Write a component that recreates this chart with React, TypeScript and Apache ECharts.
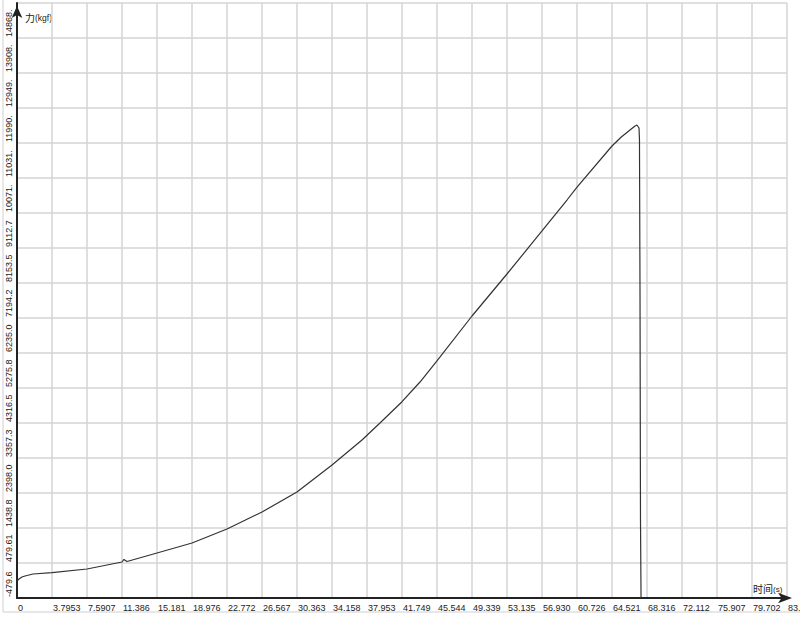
import React, { useEffect, useRef } from 'react';
import * as echarts from 'echarts';

// time (s)
const timeS = [
  0, 0.217, 0.542, 0.867, 1.735, 3.795, 7.591, 11.386, 11.60, 11.93, 14.42,
  18.98, 22.77, 26.57, 30.36, 34.16, 37.41, 39.36, 41.75, 43.70, 45.54, 49.34, 53.13,
  56.93, 59.64, 60.73, 64.52, 65.53, 66.47, 67.02, 67.23, 67.45, 67.50, 67.56, 67.61, 67.67,
];
// force (kgf)
const forceKgf = [
  -14, 41, 96, 123, 178, 214, 315, 507, 576, 521, 699,
  1028, 1411, 1877, 2426, 3166, 3851, 4317, 4900, 5440, 6016, 7249, 8400,
  9579, 10428, 10784, 11908, 12154, 12346, 12456, 12483, 12401, 12072, 7687, 1658, -480,
];

const xTickLabels = [
  '0', '3.7953', '7.5907', '11.386', '15.181', '18.976', '22.772', '26.567',
  '30.363', '34.158', '37.953', '41.749', '45.544', '49.339', '53.135', '56.930',
  '60.726', '64.521', '68.316', '72.112', '75.907', '79.702', '83.',
];
const yTickLabels = [
  '-479.6', '479.61', '1438.8', '2398.0', '3357.3', '4316.5', '5275.8', '6235.0',
  '7194.2', '8153.5', '9112.7', '10071.', '11031.', '11990.', '12949.', '13908.', '14868.', '',
];

const X_INTERVAL = 3.79533;
const X_TICKS = 22;
const Y_INTERVAL = 959.225;
const Y_BASE = -479.6;
const Y_TICKS = 17;
const breakLabel = '1';

export default function App() {
  const ref = useRef<HTMLDivElement>(null);
  useEffect(() => {
    document.body.style.margin = '0';
    const chart = echarts.init(ref.current!, null, { renderer: 'svg' });
    const data = timeS.map((t, i) => [t, forceKgf[i] - Y_BASE]);
    const last = data[data.length - 1];
    chart.setOption({
      animation: false,
      backgroundColor: '#fff',
      grid: {
        left: 17,
        right: 13,
        top: 3,
        bottom: 20,
        containLabel: false,
        outerBoundsMode: 'none',
      },
      xAxis: {
        type: 'value',
        min: 0,
        max: X_INTERVAL * X_TICKS,
        interval: X_INTERVAL,
        axisLine: {
          show: true,
          onZero: false,
          symbol: ['none', 'arrow'],
          symbolSize: [8, 14],
          symbolOffset: [0, 5],
          lineStyle: { color: '#222', width: 2 },
        },
        axisTick: { show: false },
        splitLine: { show: true, lineStyle: { color: '#d4d4d4', width: 1.5 } },
        axisLabel: {
          fontSize: 9,
          fontFamily: 'Liberation Sans, Arial, sans-serif',
          color: '#222',
          align: 'left',
          margin: 5,
          padding: [0, 0, 0, 1],
          showMaxLabel: true,
          hideOverlap: false,
          formatter: (_v: number, idx: number) => xTickLabels[idx] ?? '',
        },
      },
      yAxis: {
        type: 'value',
        min: 0,
        max: Y_INTERVAL * Y_TICKS,
        interval: Y_INTERVAL,
        axisLine: {
          show: true,
          onZero: false,
          symbol: ['none', 'arrow'],
          symbolSize: [8, 12],
          symbolOffset: [0, -3],
          lineStyle: { color: '#222', width: 2 },
        },
        axisTick: { show: false },
        splitLine: { show: true, lineStyle: { color: '#d4d4d4', width: 1.5 } },
        axisLabel: {
          fontSize: 9,
          fontFamily: 'Liberation Sans, Arial, sans-serif',
          color: '#222',
          rotate: 90,
          align: 'left',
          verticalAlign: 'middle',
          margin: 8,
          padding: [0, 0, 0, 1],
          formatter: (_v: number, idx: number) => yTickLabels[idx] ?? '',
        },
      },
      graphic: [
        {
          type: 'rect',
          shape: { x: 3, y: -10, width: 820, height: 622 },
          style: { fill: 'none', stroke: '#cfcfcf', lineWidth: 1 },
          silent: true,
        },
        {
          type: 'text',
          left: 25,
          top: 12,
          style: {
            text: '{a|力}{b|(kgf)}',
            rich: {
              a: { fontSize: 10, lineHeight: 12, verticalAlign: 'bottom', fontFamily: 'Noto Sans CJK SC', fill: '#222' },
              b: { fontSize: 8.5, lineHeight: 12, verticalAlign: 'bottom', fontFamily: 'Liberation Sans', fill: '#222' },
            },
          },
        },
        {
          type: 'text',
          left: 753,
          top: 583,
          style: {
            text: '{a|时间}{b|(s)}',
            rich: {
              a: { fontSize: 10, lineHeight: 12, verticalAlign: 'bottom', fontFamily: 'Noto Sans CJK SC', fill: '#222' },
              b: { fontSize: 8, lineHeight: 12, verticalAlign: 'bottom', fontFamily: 'Liberation Sans', fill: '#222' },
            },
          },
        },
      ],
      series: [
        {
          type: 'line',
          data,
          showSymbol: false,
          symbol: 'none',
          smooth: false,
          lineStyle: { color: '#333', width: 1.2 },
          markPoint: {
            symbol: 'circle',
            symbolSize: 0,
            data: [
              {
                coord: last,
                label: {
                  show: true,
                  formatter: breakLabel,
                  position: 'inside',
                  offset: [14, -11],
                  fontSize: 15,
                  fontFamily: 'Liberation Serif, serif',
                  color: '#222',
                },
              },
            ],
          },
        },
      ],
    });
    return () => chart.dispose();
  }, []);
  return <div ref={ref} style={{ width: 800, height: 618 }} />;
}
